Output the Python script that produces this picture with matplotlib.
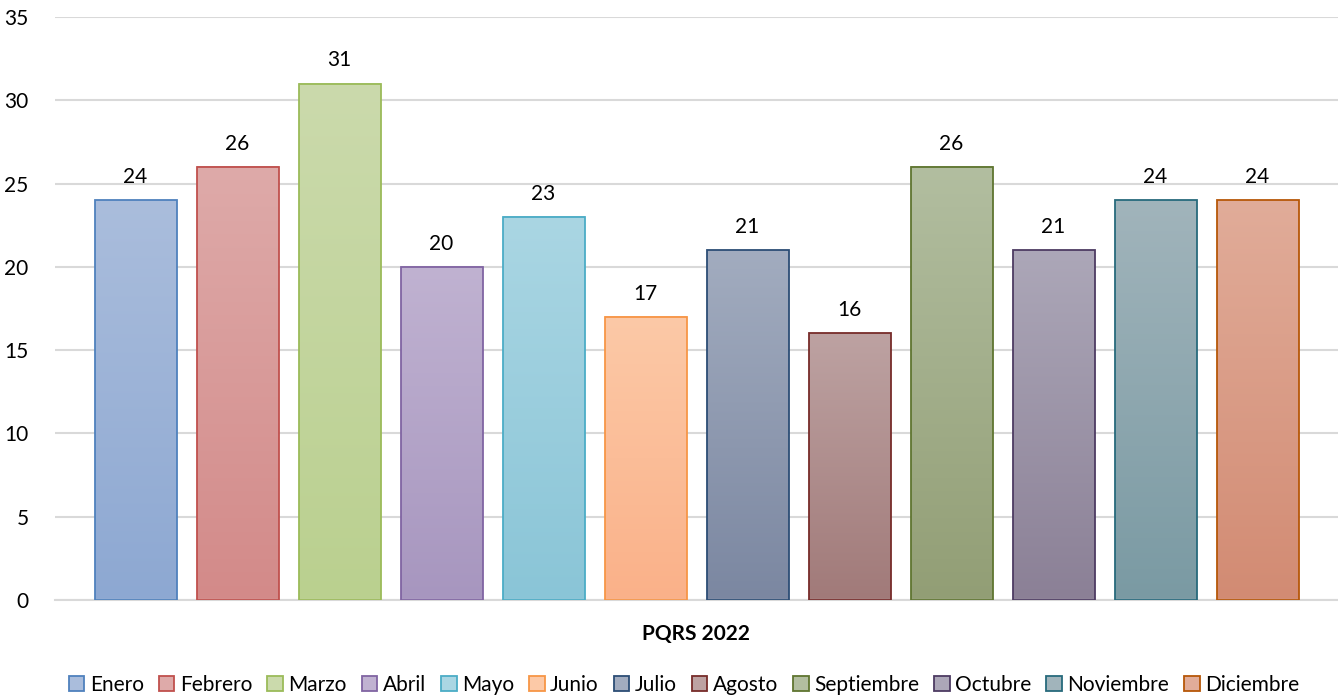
import numpy as np
import matplotlib
matplotlib.use("Agg")
import matplotlib.pyplot as plt
from matplotlib.colors import LinearSegmentedColormap
from matplotlib.patches import Patch, Rectangle

plt.rcParams['font.family'] = ['Lato', 'DejaVu Sans']

# data
meses = ['Enero', 'Febrero', 'Marzo', 'Abril', 'Mayo', 'Junio', 'Julio',
         'Agosto', 'Septiembre', 'Octubre', 'Noviembre', 'Diciembre']
valores = [24, 26, 31, 20, 23, 17, 21, 16, 26, 21, 24, 24]
categoria = 'PQRS 2022'

# colours: top of gradient, bottom of gradient, edge
tope = ['#AABDDC', '#DEAAA9', '#CBDAAC', '#C0B2D1', '#AAD6E3', '#FCC9A7',
        '#A2ACBF', '#BDA2A2', '#B2BEA0', '#ACA7B8', '#A1B4BB', '#E1AC99']
fondo = ['#8DA8D2', '#D38A89', '#BAD08F', '#A796BF', '#8AC5D7', '#FAB189',
         '#7B87A1', '#A17A79', '#929E75', '#8B8096', '#7A9AA3', '#D28B73']
borde = ['#4F81BD', '#C0504D', '#9BBB59', '#8064A2', '#4BACC6', '#F79646',
         '#2C4D75', '#772C2A', '#5F7530', '#4D3B62', '#276A7C', '#B65708']

fig = plt.figure(figsize=(13.38, 6.98), dpi=100)
ax = fig.add_axes([55 / 1338, 98 / 698, 1283 / 1338, 583 / 698])

paso = 102 / 1283
ancho = 82 / 1283
for i, v in enumerate(valores):
    x0 = (i - 5.5) * paso - ancho / 2
    cmap = LinearSegmentedColormap.from_list('g', [fondo[i], tope[i]])
    grad = np.linspace(0, 1, 256).reshape(-1, 1)
    ax.imshow(grad, cmap=cmap, origin='lower', aspect='auto',
              extent=[x0, x0 + ancho, 0, v], zorder=2)
    ax.add_patch(Rectangle((x0, 0), ancho, v, fill=False, edgecolor=borde[i],
                           linewidth=1.3, zorder=3))
    ax.text(x0 + ancho / 2, v + 0.8, str(v), ha='center', va='bottom',
            fontsize=15, color='#000000')

ax.set_xlim(-0.5, 0.5)
ax.set_ylim(0, 35)
ax.set_yticks(range(0, 36, 5))
ax.set_xticks([0])
ax.set_xticklabels([categoria], fontweight='bold', fontsize=14)
ax.tick_params(axis='both', length=0, labelsize=15, colors='#000000')
ax.tick_params(axis='x', pad=17)
ax.tick_params(axis='y', pad=19)
ax.grid(axis='y', color='#D9D9D9', linewidth=1.5, zorder=0)
ax.set_axisbelow(True)
for s in ['top', 'right', 'left']:
    ax.spines[s].set_visible(False)
ax.spines['bottom'].set_color('#D9D9D9')
ax.spines['bottom'].set_linewidth(1.5)

handles = [Patch(facecolor=tope[i], edgecolor=borde[i], linewidth=1.3)
           for i in range(len(meses))]
fig.legend(handles, meses, loc='center', bbox_to_anchor=(684 / 1338, 13 / 698),
           ncol=12, frameon=False, fontsize=15, handlelength=0.75,
           handleheight=0.75, handletextpad=0.25, columnspacing=0.73,
           borderaxespad=0)

fig.savefig('out.png', dpi=100)
